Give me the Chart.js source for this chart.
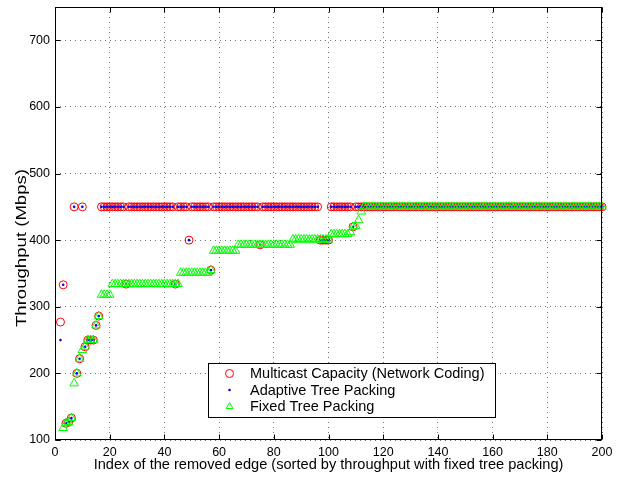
<!DOCTYPE html>
<html>
<head>
<meta charset="utf-8">
<script src="https://cdn.jsdelivr.net/npm/chart.js@4.4.1/dist/chart.umd.min.js"></script>
<style>
html,body{margin:0;padding:0;background:#ffffff;}
#wrap{width:624px;height:480px;}
</style>
</head>
<body>
<div id="wrap"><canvas id="c" width="624" height="480"></canvas></div>
<script>
// ---- data ----
const xTickValues = [0, 20, 40, 60, 80, 100, 120, 140, 160, 180, 200];
const yTickValues = [100, 200, 300, 400, 500, 600, 700];
const seriesNames = ['Multicast Capacity (Network Coding)', 'Adaptive Tree Packing', 'Fixed Tree Packing'];
const xTitle = 'Index of the removed edge (sorted by throughput with fixed tree packing)';
const yTitle = 'Throughput (Mbps)';

const multicastCapacity = [
  null,277,333,125,127,133,450,200,222,450, 240,250,250,250,272,286,450,450,450,450,
  450,450,450,450,450,334,450,450,450,450, 450,450,450,450,450,450,450,450,450,450,
  450,450,450,334,450,450,450,450,400,450, 450,450,450,450,450,450,355,450,450,450,
  450,450,450,450,450,450,450,450,450,450, 450,450,450,450,393,450,450,450,450,450,
  450,450,450,450,450,450,450,450,450,450, 450,450,450,450,450,450,400,400,400,400,
  450,450,450,450,450,450,450,450,420,450, 450,450,450,450,450,450,450,450,450,450,
  450,450,450,450,450,450,450,450,450,450, 450,450,450,450,450,450,450,450,450,450,
  450,450,450,450,450,450,450,450,450,450, 450,450,450,450,450,450,450,450,450,450,
  450,450,450,450,450,450,450,450,450,450, 450,450,450,450,450,450,450,450,450,450,
  450,450,450,450,450,450,450,450,450,450, 450,450,450,450,450,450,450,450,450,450
];

const adaptiveTreePacking = [
  null,250,333,125,127,133,450,200,222,450, 240,250,250,250,272,286,450,450,450,450,
  450,450,450,450,450,334,450,450,450,450, 450,450,450,450,450,450,450,450,450,450,
  450,450,450,334,450,450,450,450,400,450, 450,450,450,450,450,450,355,450,450,450,
  450,450,450,450,450,450,450,450,450,450, 450,450,450,450,393,450,450,450,450,450,
  450,450,450,450,450,450,450,450,450,450, 450,450,450,450,450,450,400,400,400,400,
  450,450,450,450,450,450,450,450,420,450, 450,450,450,450,450,450,450,450,450,450,
  450,450,450,450,450,450,450,450,450,450, 450,450,450,450,450,450,450,450,450,450,
  450,450,450,450,450,450,450,450,450,450, 450,450,450,450,450,450,450,450,450,450,
  450,450,450,450,450,450,450,450,450,450, 450,450,450,450,450,450,450,450,450,450,
  450,450,450,450,450,450,450,450,450,450, 450,450,450,450,450,450,450,450,450,450
];

const fixedTreePacking = [
  null,null,118,125,127,133,185,200,222,235, 240,250,250,250,272,286,318,318,318,318,
  334,334,334,334,334,334,334,334,334,334, 334,334,334,334,334,334,334,334,334,334,
  334,334,334,334,334,351,351,351,351,351, 351,351,351,351,351,351,355,384,384,384,
  384,384,384,384,384,384,393,393,393,393, 393,393,393,393,393,393,393,393,393,393,
  393,393,393,393,393,393,401,401,401,401, 401,401,401,401,401,401,401,401,401,401,
  409,409,409,409,409,409,409,412,420,421, 430,443,450,450,450,450,450,450,450,450,
  450,450,450,450,450,450,450,450,450,450, 450,450,450,450,450,450,450,450,450,450,
  450,450,450,450,450,450,450,450,450,450, 450,450,450,450,450,450,450,450,450,450,
  450,450,450,450,450,450,450,450,450,450, 450,450,450,450,450,450,450,450,450,450,
  450,450,450,450,450,450,450,450,450,450, 450,450,450,450,450,450,450,450,450,450
];

const edgeIndex = multicastCapacity.map((_, i) => i + 1);
const toPoints = arr => edgeIndex.map((x, i) => ({ x: x, y: arr[i] }));

// ---- styling ----
const FONT = '"Liberation Sans", Arial, Helvetica, sans-serif';
Chart.defaults.font.family = FONT;
Chart.defaults.color = '#000000';

function drawMarker(ctx, ds, x, y) {
  const r = ds.pointRadius;
  ctx.save();
  ctx.lineWidth = ds.borderWidth || 0;
  ctx.strokeStyle = ds.borderColor;
  ctx.fillStyle = ds.backgroundColor;
  ctx.beginPath();
  if (ds.pointStyle === 'triangle') {
    let a = 0;
    ctx.moveTo(x + Math.sin(a) * r, y - Math.cos(a) * r);
    a += 2 * Math.PI / 3;
    ctx.lineTo(x + Math.sin(a) * r, y - Math.cos(a) * r);
    a += 2 * Math.PI / 3;
    ctx.lineTo(x + Math.sin(a) * r, y - Math.cos(a) * r);
    ctx.closePath();
  } else {
    ctx.arc(x, y, r, 0, Math.PI * 2);
  }
  ctx.fill();
  if (ds.borderWidth) ctx.stroke();
  ctx.restore();
}

const framePlugin = {
  id: 'frame',
  afterDatasetsDraw(chart) {
    const { ctx, chartArea: a, scales } = chart;
    const L = Math.round(a.left) + 0.5, R = Math.round(a.right) - 0.5;
    const T = Math.round(a.top) + 0.5, B = Math.round(a.bottom) - 0.5;
    const tl = 5;
    ctx.save();
    ctx.strokeStyle = '#000000';
    ctx.lineWidth = 1;
    ctx.beginPath();
    xTickValues.forEach(v => {
      const px = Math.round(scales.x.getPixelForValue(v)) + 0.5;
      ctx.moveTo(px, B); ctx.lineTo(px, B - tl);
      ctx.moveTo(px, T); ctx.lineTo(px, T + tl);
    });
    yTickValues.forEach(v => {
      const py = Math.round(scales.y.getPixelForValue(v)) + 0.5;
      ctx.moveTo(L, py); ctx.lineTo(L + tl, py);
      ctx.moveTo(R, py); ctx.lineTo(R - tl, py);
    });
    ctx.stroke();
    ctx.strokeRect(L, T, R - L, B - T);
    ctx.restore();
  }
};

// y-axis title, drawn rotated and slightly stretched like the reference's rotated label
const yTitlePlugin = {
  id: 'yTitle',
  afterDraw(chart) {
    const ctx = chart.ctx;
    ctx.save();
    ctx.translate(22, 248);
    ctx.rotate(-Math.PI / 2);
    ctx.font = '14.5px ' + FONT;
    const w = ctx.measureText(yTitle).width;
    const sx = 158 / w;
    ctx.scale(sx, 1);
    ctx.fillStyle = '#000000';
    ctx.textAlign = 'center';
    ctx.textBaseline = 'middle';
    ctx.fillText(yTitle, 0, 0);
    ctx.restore();
  }
};

const legendPlugin = {
  id: 'boxLegend',
  afterDraw(chart) {
    const ctx = chart.ctx;
    const box = { left: 208.5, top: 363.5, width: 287, height: 54 };
    const rowY = [373.5, 390, 406.5];
    const markerX = 229.5, textX = 250;
    ctx.save();
    ctx.fillStyle = '#ffffff';
    ctx.fillRect(box.left, box.top, box.width, box.height);
    ctx.strokeStyle = '#000000';
    ctx.lineWidth = 1;
    ctx.strokeRect(box.left, box.top, box.width, box.height);
    ctx.font = '14.5px ' + FONT;
    ctx.textBaseline = 'middle';
    ctx.textAlign = 'left';
    chart.data.datasets.forEach((ds, i) => {
      const m = Object.assign({}, ds, { pointRadius: Math.min(ds.pointRadius, 4) });
      drawMarker(ctx, m, markerX, rowY[i]);
      ctx.fillStyle = '#000000';
      ctx.fillText(ds.label, textX, rowY[i] + 0.5);
    });
    ctx.restore();
  }
};

const gridColor = 'rgba(0,0,0,0.55)';

new Chart(document.getElementById('c'), {
  type: 'scatter',
  data: {
    datasets: [
      { label: seriesNames[0], data: toPoints(multicastCapacity), pointStyle: 'circle', pointRadius: 4,
        borderColor: '#ff0000', backgroundColor: 'rgba(0,0,0,0)', borderWidth: 1, order: 3, clip: false },
      { label: seriesNames[1], data: toPoints(adaptiveTreePacking), pointStyle: 'circle', pointRadius: 1.3,
        borderColor: '#0000ff', backgroundColor: '#0000ff', borderWidth: 0, order: 2, clip: false },
      { label: seriesNames[2], data: toPoints(fixedTreePacking), pointStyle: 'triangle', pointRadius: 5,
        borderColor: '#00ff00', backgroundColor: 'rgba(0,0,0,0)', borderWidth: 1, order: 1, clip: false }
    ]
  },
  options: {
    responsive: false,
    animation: false,
    devicePixelRatio: 1,
    events: [],
    layout: { padding: { left: 0, right: 22, top: 7, bottom: 0 } },
    plugins: { legend: { display: false }, tooltip: { enabled: false } },
    scales: {
      x: {
        type: 'linear', min: 0, max: 200,
        afterBuildTicks: s => { s.ticks = xTickValues.map(v => ({ value: v })); },
        afterFit: s => { s.height = 40; s.paddingLeft = 0; s.paddingRight = 0; },
        grid: { color: gridColor, lineWidth: 1, drawTicks: false },
        border: { display: false, dash: [1, 4] },
        ticks: { padding: 5, autoSkip: false, maxRotation: 0, font: { size: 12.5 }, color: '#000' },
        title: { display: true, text: xTitle, font: { size: 14.6 }, color: '#000', padding: { top: 0, bottom: 6 } }
      },
      y: {
        type: 'linear', min: 100, max: 750,
        afterBuildTicks: s => { s.ticks = yTickValues.map(v => ({ value: v })); },
        afterFit: s => { s.width = 55; s.paddingTop = 0; s.paddingBottom = 0; },
        grid: { color: gridColor, lineWidth: 1, drawTicks: false },
        border: { display: false, dash: [1, 4] },
        ticks: { padding: 5, autoSkip: false, font: { size: 12.5 }, color: '#000' },
        title: { display: false, text: yTitle }
      }
    }
  },
  plugins: [framePlugin, yTitlePlugin, legendPlugin]
});
</script>
</body>
</html>
